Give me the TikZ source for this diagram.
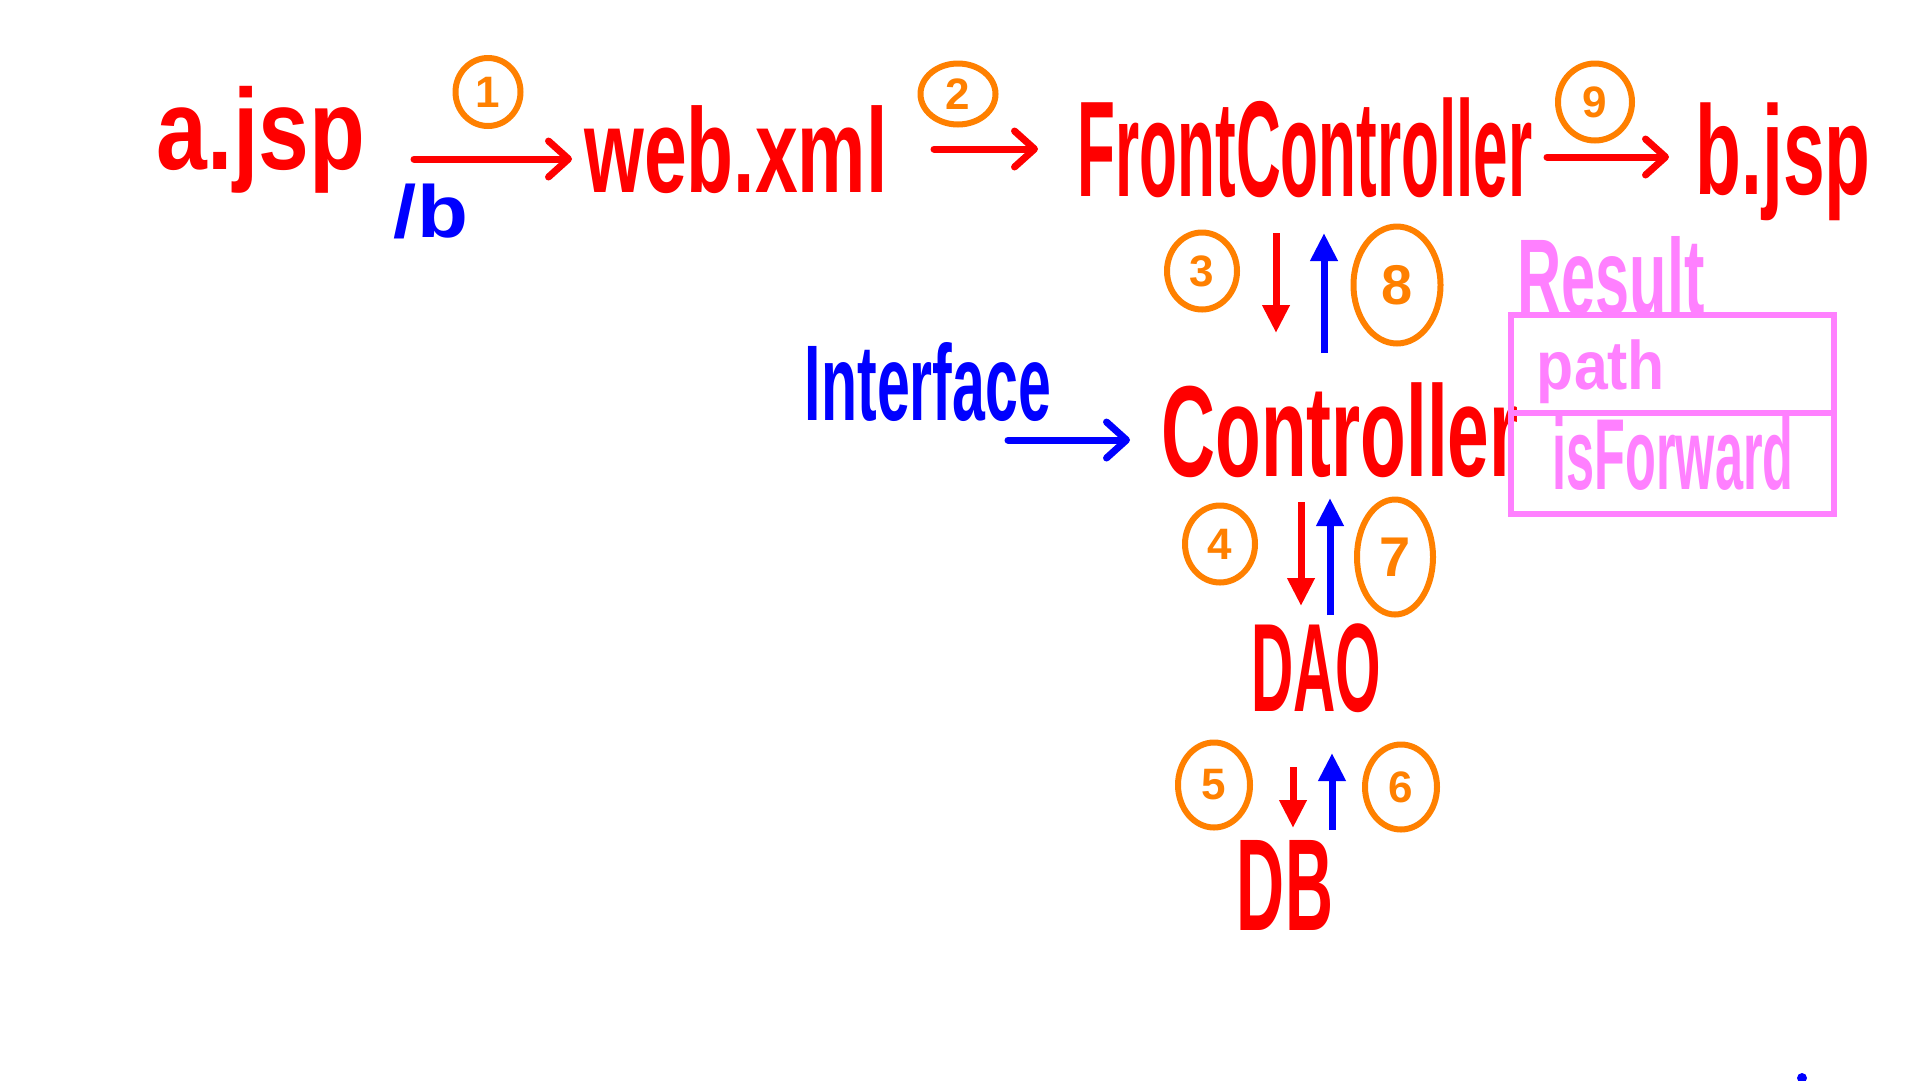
\documentclass[tikz,border=0pt]{standalone}
\usepackage{fontspec}
\setsansfont{Liberation Sans}
\usetikzlibrary{arrows.meta,shapes.geometric}
\definecolor{hred}{RGB}{255,0,0}
\definecolor{hblue}{RGB}{0,0,255}
\definecolor{horange}{RGB}{255,128,0}
\definecolor{hpink}{RGB}{255,128,255}
\newcommand\fitt[3]{\resizebox*{#1pt}{#2pt}{\sffamily\bfseries #3}}
\begin{document}
\begin{tikzpicture}[x=1pt,y=-1pt,
  lbl/.style={inner sep=0pt, text=hred},
  bl/.style={inner sep=0pt, text=hblue},
  pk/.style={inner sep=0pt, text=hpink},
  num/.style 2 args={draw=horange, line width=6pt, ellipse, inner sep=0pt,
    text=horange, minimum width=#1, minimum height=#2,
    font=\sffamily\bfseries\fontsize{44}{44}\selectfont},
  harrow/.style={line width=7pt, line cap=round, -{Straight Barb[length=20pt,width=36pt,line width=7pt,round]}},
  varrow/.style={line width=7pt, -{Triangle[length=28pt,width=26pt]}}
]
\useasboundingbox (0,0) rectangle (1920,1080);
\fill[white] (0,0) rectangle (1920,1080);

% top row
\node[lbl] (ajsp) at (261,140) {\fitt{208}{107}{a.jsp}};
\node[bl] (slb) at (431,211) {\fitt{74}{55}{/b}};
\node[lbl] (web) at (736,150) {\fitt{303}{88}{web.xml}};
\node[lbl] (fc) at (1305,148) {\fitt{455}{100}{FrontController}};
\node[lbl] (bjsp) at (1783,162) {\fitt{175}{118}{b.jsp}};

\coordinate (a1s) at (414,159); \coordinate (a1e) at (572,159);
\coordinate (a2s) at (934,149); \coordinate (a2e) at (1038,149);
\coordinate (a9s) at (1547,157); \coordinate (a9e) at (1669,157);
\draw[harrow, hred] (a1s) -- (a1e);
\draw[harrow, hred] (a2s) -- (a2e);
\draw[harrow, hred] (a9s) -- (a9e);

\node[num={65}{68}] (n1) at (488,92) {1};
\node[num={75}{61}] (n2) at (958,94) {2};
\node[num={74}{77}] (n9) at (1595,102) {9};

% controller row
\node[bl] (intf) at (928,382) {\fitt{246}{79}{Interface}};
\node[lbl] (ctrl) at (1340,430) {\fitt{357}{95}{Controller}};
\coordinate (ias) at (1008,440); \coordinate (iae) at (1130,440);
\draw[harrow, hblue] (ias) -- (iae);

\coordinate (a3s) at (1276,233); \coordinate (a3e) at (1276,333);
\coordinate (a8s) at (1324,353); \coordinate (a8e) at (1324,233);
\draw[varrow, hred] (a3s) -- (a3e);
\draw[varrow, hblue] (a8s) -- (a8e);
\node[num={70}{77}] (n3) at (1202,271) {3};
\node[num={87}{117}, font=\sffamily\bfseries\fontsize{56}{56}\selectfont] (n8) at (1397,285) {8};

% Result box
\node[pk] (res) at (1611,276) {\fitt{187}{79}{Result}};
\draw[hpink, line width=6pt] (1511,315) rectangle (1834,514);
\draw[hpink, line width=6pt] (1511,413) -- (1834,413);
\node[pk] (path) at (1601,372) {\fitt{128}{64}{path}};
\node[pk] (isf) at (1673,453) {\fitt{241}{74}{isForward}};

% DAO
\node[lbl] (dao) at (1316,668) {\fitt{130}{89}{DAO}};
\coordinate (a4s) at (1301,502); \coordinate (a4e) at (1301,606);
\coordinate (a7s) at (1330,615); \coordinate (a7e) at (1330,498);
\draw[varrow, hred] (a4s) -- (a4e);
\draw[varrow, hblue] (a7s) -- (a7e);
\node[num={70}{77}] (n4) at (1220,544) {4};
\node[num={76}{115}, font=\sffamily\bfseries\fontsize{56}{56}\selectfont] (n7) at (1395,557) {7};

% DB
\node[lbl] (db) at (1285,885) {\fitt{96}{90}{DB}};
\coordinate (a5s) at (1293,767); \coordinate (a5e) at (1293,828);
\coordinate (a6s) at (1332,830); \coordinate (a6e) at (1332,753);
\draw[varrow, hred] (a5s) -- (a5e);
\draw[varrow, hblue] (a6s) -- (a6e);
\node[num={72}{85}] (n5) at (1214,785) {5};
\node[num={72}{85}] (n6) at (1401,787) {6};

% stray dot
\fill[hblue] (1802,1078) circle (5);
\end{tikzpicture}
\end{document}
